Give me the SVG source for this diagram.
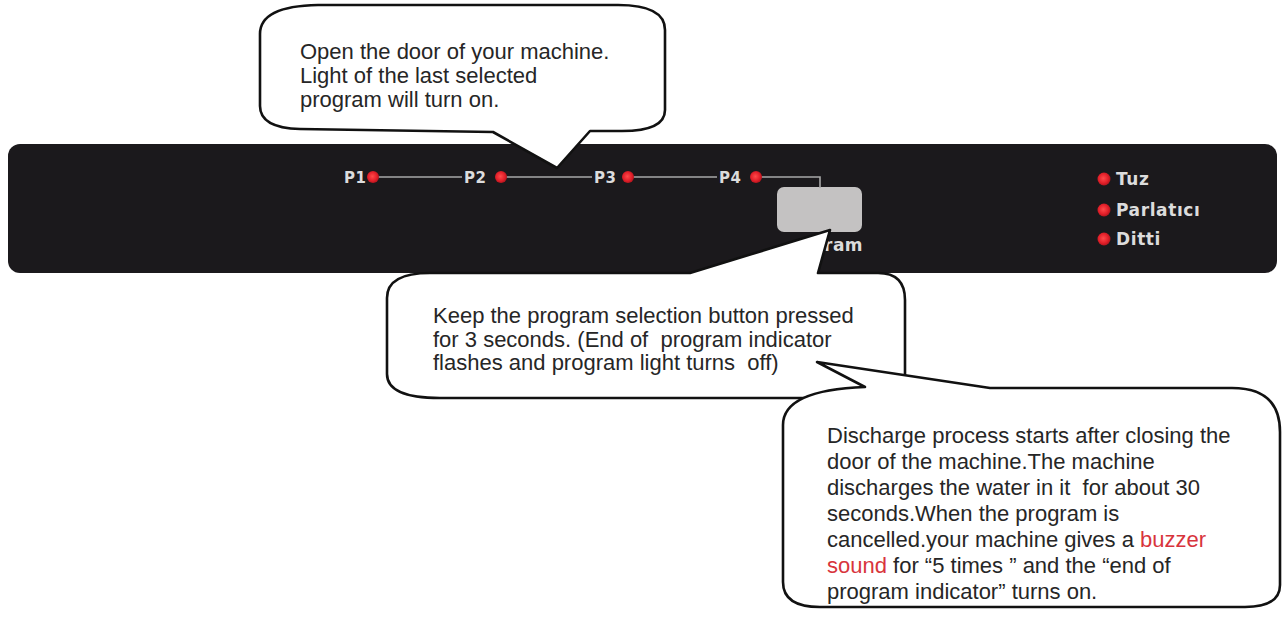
<svg xmlns="http://www.w3.org/2000/svg" width="1287" height="621" viewBox="0 0 1287 621">
  <defs>
    <radialGradient id="led" cx="0.45" cy="0.45" r="0.6">
      <stop offset="0" stop-color="#ff4a4a"/>
      <stop offset="0.6" stop-color="#e3202a"/>
      <stop offset="1" stop-color="#a8121a"/>
    </radialGradient>
    <style>
      .bubble { fill: #ffffff; stroke: #111111; stroke-width: 2.6; stroke-linejoin: round; }
      .txt { font-family: "Liberation Sans", Arial, sans-serif; font-size: 22px; fill: #262626; }
      .red { fill: #d8343c; }
      .lbl { font-family: "DejaVu Sans", sans-serif; font-weight: bold; fill: #dcdcdc; }
      .led { fill: url(#led); }
      .wire { fill: none; stroke: #a8a8a8; stroke-width: 1.6; }
    </style>
  </defs>
  <rect width="1287" height="621" fill="#ffffff"/>

  <g id="panel">
    <rect x="8" y="144" width="1269" height="129" rx="12" fill="#1b191c"/>
    <rect id="program-button" x="777" y="187" width="85" height="45" rx="7" fill="#c4c2c2"/>
    <text class="lbl" x="824" y="251" font-size="17" letter-spacing="0.5">ram</text>
  </g>

  <g id="connectors">
    <path class="wire" d="M378 177 H462"/>
    <path class="wire" d="M506 177 H592"/>
    <path class="wire" d="M633 177 H717"/>
    <path class="wire" d="M761 177 H820 V188"/>
  </g>

  <g id="p1">
    <text class="lbl" x="344" y="183" font-size="15" letter-spacing="0.5">P1</text>
    <circle class="led" cx="373" cy="177" r="6"/>
  </g>
  <g id="p2">
    <text class="lbl" x="464" y="183" font-size="15" letter-spacing="0.5">P2</text>
    <circle class="led" cx="501" cy="177" r="6"/>
  </g>
  <g id="p3">
    <text class="lbl" x="594" y="183" font-size="15" letter-spacing="0.5">P3</text>
    <circle class="led" cx="628" cy="177" r="6"/>
  </g>
  <g id="p4">
    <text class="lbl" x="719" y="183" font-size="15" letter-spacing="0.5">P4</text>
    <circle class="led" cx="756" cy="177" r="6"/>
  </g>

  <g id="tuz">
    <circle class="led" cx="1104" cy="179" r="6.5"/>
    <text class="lbl" x="1116" y="185" font-size="17" letter-spacing="0.6">Tuz</text>
  </g>
  <g id="parlatici">
    <circle class="led" cx="1104" cy="210" r="6.5"/>
    <text class="lbl" x="1116" y="216" font-size="17" letter-spacing="0.6">Parlatıcı</text>
  </g>
  <g id="ditti">
    <circle class="led" cx="1104" cy="239" r="6.5"/>
    <text class="lbl" x="1116" y="245" font-size="17" letter-spacing="0.6">Ditti</text>
  </g>

  <g id="bubble1">
    <path class="bubble" d="M318 5 L618 5 Q665 5 665 30 L665 110 Q665 131 622 131 L590 131 L557 168 L493 132 L300 129 Q260 128 260 106 L260 34 Q260 6 318 5 Z"/>
    <text class="txt" x="300" y="59">Open the door of your machine.</text>
    <text class="txt" x="300" y="83">Light of the last selected</text>
    <text class="txt" x="300" y="107">program will turn on.</text>
  </g>

  <g id="bubble2">
    <path class="bubble" d="M430 273 L690 273 L830 230 L818 273 L878 273 Q905 273 905 300 L905 378 Q905 398 880 398 L440 398 Q387 398 387 374 L387 298 Q387 273 430 273 Z"/>
    <text class="txt" x="433" y="323">Keep the program selection button pressed</text>
    <text class="txt" x="433" y="347" xml:space="preserve">for 3 seconds. (End of  program indicator</text>
    <text class="txt" x="433" y="370" xml:space="preserve">flashes and program light turns  off)</text>
  </g>

  <g id="bubble3">
    <path class="bubble" d="M817 362 L990 388 L1232 388 Q1280 388 1280 432 L1280 585 Q1280 607 1245 607 L820 607 Q783 607 783 582 L783 425 Q783 390 865 387 Z"/>
    <text class="txt" x="827" y="443">Discharge process starts after closing the</text>
    <text class="txt" x="827" y="469">door of the machine.The machine</text>
    <text class="txt" x="827" y="495" xml:space="preserve">discharges the water in it  for about 30</text>
    <text class="txt" x="827" y="521">seconds.When the program is</text>
    <text class="txt" x="827" y="547">cancelled.your machine gives a <tspan class="red">buzzer</tspan></text>
    <text class="txt" x="827" y="573"><tspan class="red">sound</tspan> for “5 times ” and the “end of</text>
    <text class="txt" x="827" y="599">program indicator” turns on.</text>
  </g>
</svg>
